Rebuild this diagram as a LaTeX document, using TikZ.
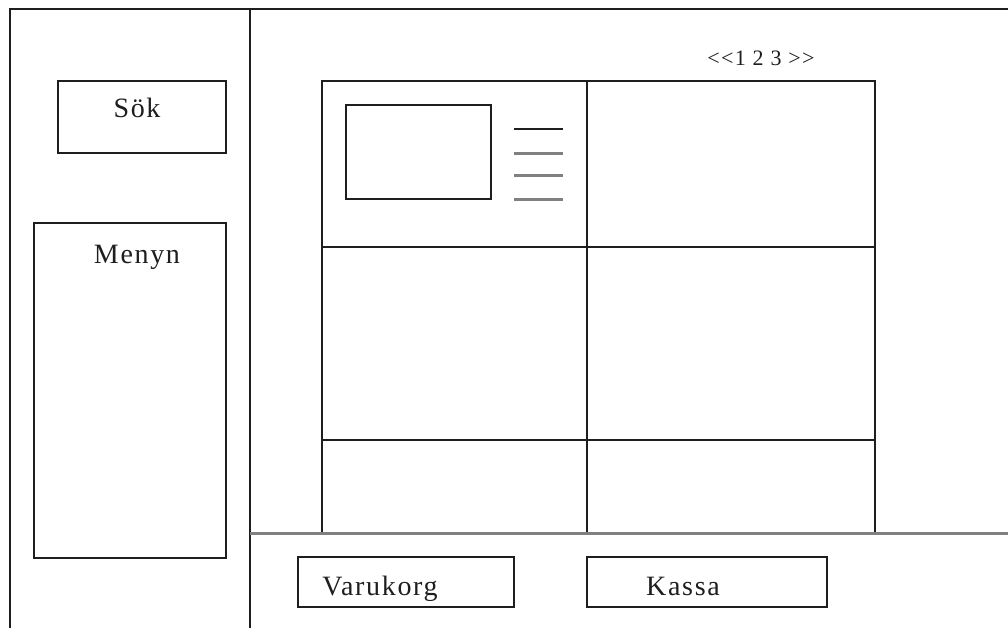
\documentclass[tikz,border=0pt]{standalone}
\usepackage{fontspec}
\setmainfont{Liberation Serif}
\newfontfamily\wirefont{Liberation Serif}[LetterSpace=6]
\usepackage{tikz}
\usetikzlibrary{positioning,calc}
\definecolor{wireline}{RGB}{30,30,30}
\definecolor{wiregray}{RGB}{128,128,128}

\tikzset{
  frame/.style={draw=wireline, line width=1.6pt},
  box/.style={draw=wireline, line width=1.6pt, rectangle, inner sep=0pt},
  lbl/.style={font=\wirefont\fontsize{28}{30}\selectfont, text=wireline, inner sep=0pt, anchor=base},
  greyline/.style={draw=wiregray, line width=3pt},
}

\begin{document}
\begin{tikzpicture}[x=1pt, y=-1pt]
\useasboundingbox (0,0) rectangle (1008,628);
% page frame
\draw[frame] (10,628) -- (10,9) -- (1008,9);
\draw[frame] (250,9) -- (250,628);
% product grid
\draw[frame] (322,533) -- (322,81) -- (875,81) -- (875,533);
\draw[frame] (587,81) -- (587,533);
\draw[frame] (322,247) -- (875,247);
\draw[frame] (322,440) -- (875,440);
\draw[greyline] (250,533) -- (1008,533);
% left column
\node[box, minimum width=168pt, minimum height=72pt] (sok) at (142,117) {};
\node[lbl] (soktext) at (137,118) {Sök};
\node[box, minimum width=192pt, minimum height=335pt] (menyn) at (130,390.5) {};
\node[lbl] (menyntext) at (137,263) {Menyn};
% first product
\node[box, minimum width=145pt, minimum height=94pt] (bild) at (418.5,152) {};
\draw[frame] (514,129) -- (563,129);
\draw[greyline] (514,154) -- (563,154);
\draw[greyline] (514,176) -- (563,176);
\draw[greyline] (514,200) -- (563,200);
\node[lbl, font=\wirefont\fontsize{22}{24}\selectfont] (sidor) at (761,66) {<<1 2 3 >>};
% bottom buttons
\node[box, minimum width=216pt, minimum height=50pt] (varukorg) at (406,582) {};
\node[lbl] (varukorgtext) at (380,595) {Varukorg};
\node[box, minimum width=240pt, minimum height=50pt] (kassa) at (707,582) {};
\node[lbl] (kassatext) at (683,595) {Kassa};
\end{tikzpicture}
\end{document}
